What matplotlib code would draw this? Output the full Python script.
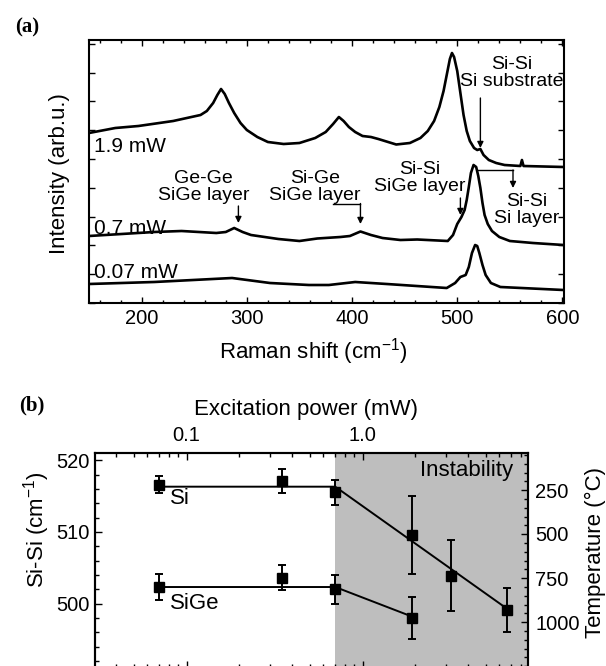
import numpy as np
import matplotlib
matplotlib.use("Agg")
import matplotlib.pyplot as plt
from matplotlib.ticker import MultipleLocator, FixedLocator, LogLocator, NullFormatter

plt.rcParams['font.family'] = ['Liberation Sans', 'DejaVu Sans']
plt.rcParams['mathtext.default'] = 'regular'

# ========= DATA ==================================
# (a) Raman spectra, intensity in arbitrary units
shift_19 = [150, 175, 197, 230, 256, 262, 268, 272, 275.5, 279, 283, 288, 294, 300, 310,
            320, 335, 350, 365, 375, 382, 387.5, 392, 397, 403, 410, 418, 425, 442, 455,
            465, 472, 478, 483, 487, 490, 493, 495, 497, 500, 503, 506, 509, 512, 516,
            519, 522, 525, 530, 537, 545, 560, 561.5, 563, 601]
int_19 = [170, 175, 177, 182, 188, 192, 200, 208, 214, 209, 200, 190, 180, 173, 166,
          161, 159, 160, 165, 171, 179, 186, 182, 176, 171, 167, 166, 164, 158.5, 160,
          165, 172, 182, 196, 212, 228, 244, 250, 246, 232, 210, 188, 172, 162, 155,
          153, 154, 148, 143, 140, 138, 137, 143, 137, 136]

shift_07 = [150, 212, 238, 271, 280, 288, 296, 304, 330, 350, 367, 389, 398, 408, 418,
            429, 446, 462, 491, 496, 500, 504, 507, 509, 511, 513, 515.5, 518, 520, 522,
            524, 526, 529, 533, 540, 550, 572, 601]
int_07 = [67, 71, 72, 70, 71, 75, 71, 68, 64, 62, 64.5, 66, 67, 71.5, 68,
          65, 63, 63.5, 62, 68, 79, 86, 93, 103, 116, 130, 138, 136, 127, 115,
          100, 88, 79, 72, 66, 62, 60, 58]

shift_007 = [150, 212, 286, 322, 359, 378, 403, 433, 490, 498, 503, 508, 511, 514, 517,
             519, 521, 524, 527, 532, 541, 601]
int_007 = [19, 21, 25, 20, 18, 18, 21, 19, 15, 20, 26, 28, 36, 50, 58,
           57, 50, 38, 28, 20, 16, 13]

# (b) Si-Si peak position vs excitation power
power = [0.07, 0.35, 0.7, 1.9, 3.2, 6.6]
si_peak = [516.6, 517.1, 515.5, 509.5, 503.9, 499.1]
si_err = [1.15, 1.7, 1.75, 5.45, 4.95, 3.05]
sige_power = [0.07, 0.35, 0.7, 1.9]
sige_peak = [502.3, 503.6, 502.0, 498.0]
sige_err = [1.8, 1.75, 2.0, 2.9]
si_fit_power = [0.07, 0.7, 6.6]
si_fit = [516.3, 516.3, 499.3]
sige_fit_power = [0.07, 0.7, 1.9]
sige_fit = [502.3, 502.3, 498.2]
instab_start = 0.7
temp_labels = [250, 500, 750, 1000]
temp_pos = [515.8, 509.7, 503.5, 497.4]   # Si-Si value matching each temperature
# =================================================

fig = plt.figure(figsize=(6.06, 6.66), dpi=100)

# ---------------- panel (a) ----------------
ax1 = fig.add_axes([89 / 606, 1 - 303 / 666, 474.5 / 606, 263 / 666])
for x, y in [(shift_19, int_19), (shift_07, int_07), (shift_007, int_007)]:
    ax1.plot(x, y, color='k', lw=1.9, solid_joinstyle='round')

ax1.set_xlim(150, 601)
ax1.set_ylim(0, 263)
ax1.xaxis.set_major_locator(MultipleLocator(100))
ax1.xaxis.set_minor_locator(MultipleLocator(20))
ax1.yaxis.set_major_locator(MultipleLocator(28.8))
ax1.tick_params(which='both', direction='in', top=True, right=True, width=1,
                labelleft=False, labelsize=14.5, pad=4)
ax1.tick_params(which='major', length=4)
ax1.tick_params(which='minor', length=2.2)
for s in ax1.spines.values():
    s.set_linewidth(1.5)
ax1.set_xlabel(r'Raman shift (cm$^{-1}$)', fontsize=16)
ax1.xaxis.set_label_coords(0.472, -0.125)
ax1.set_ylabel('Intensity (arb.u.)', fontsize=16)
ax1.yaxis.set_label_coords(-0.04, 0.494)

fs = 14
ax1.text(155, 156, '1.9 mW', fontsize=15, va='center')
ax1.text(155, 74, '0.7 mW', fontsize=15, va='center')
ax1.text(155, 30, '0.07 mW', fontsize=15, va='center')
ax1.text(259, 116, 'Ge-Ge\nSiGe layer', fontsize=fs, ha='center', va='center', linespacing=1.05)
ax1.text(365, 116, 'Si-Ge\nSiGe layer', fontsize=fs, ha='center', va='center', linespacing=1.05)
ax1.text(464, 125, 'Si-Si\nSiGe layer', fontsize=fs, ha='center', va='center', linespacing=1.05)
ax1.text(552, 230, 'Si-Si\nSi substrate', fontsize=fs, ha='center', va='center', linespacing=1.05)
ax1.text(566, 93, 'Si-Si\nSi layer', fontsize=fs, ha='center', va='center', linespacing=1.05)

arrow = dict(arrowstyle='-|>', color='k', lw=1.0, mutation_scale=9, shrinkA=0, shrinkB=0)
ax1.annotate('', xy=(292, 80), xytext=(292, 97), arrowprops=arrow)
ax1.plot([382, 408], [99.5, 99.5], color='k', lw=1.0)
ax1.annotate('', xy=(408, 79), xytext=(408, 99.5), arrowprops=arrow)
ax1.annotate('', xy=(503, 88), xytext=(503, 105), arrowprops=arrow)
ax1.annotate('', xy=(522, 155), xytext=(522, 205), arrowprops=arrow)
ax1.plot([519, 553], [133, 133], color='k', lw=1.0)
ax1.annotate('', xy=(553, 115), xytext=(553, 133), arrowprops=arrow)

fig.text(27 / 606, 1 - 27 / 666, '(a)', fontsize=15, fontweight='bold',
         family='Liberation Serif', ha='center', va='center')

# ---------------- panel (b) ----------------
ax2 = fig.add_axes([95 / 606, 1 - 668 / 666, 433.3 / 606, 215 / 666])
ax2.set_xscale('log')
ax2.axvspan(instab_start, 100, color='#bebebe', lw=0, zorder=0)
ax2.plot(si_fit_power, si_fit, color='k', lw=1.4, zorder=2)
ax2.plot(sige_fit_power, sige_fit, color='k', lw=1.4, zorder=2)
ax2.errorbar(power, si_peak, yerr=si_err, fmt='s', color='k', ms=6.5,
             capsize=3, elinewidth=1.4, capthick=1.4, zorder=3)
ax2.errorbar(sige_power, sige_peak, yerr=sige_err, fmt='s', color='k', ms=6.5,
             capsize=3, elinewidth=1.4, capthick=1.4, zorder=3)

ax2.set_xlim(0.0302, 8.75)
ax2.set_ylim(491, 521)
ax2.set_xticks([0.1, 1.0])
ax2.set_xticklabels(['0.1', '1.0'])
ax2.xaxis.set_minor_locator(LogLocator(base=10, subs=np.arange(2, 10)))
ax2.xaxis.set_minor_formatter(NullFormatter())
ax2.yaxis.set_major_locator(MultipleLocator(10))
ax2.yaxis.set_minor_locator(MultipleLocator(2))
ax2.tick_params(which='both', direction='in', top=True, bottom=True, right=False,
                labeltop=True, labelbottom=False, width=1, labelsize=14.5)
ax2.tick_params(axis='x', pad=6)
ax2.tick_params(axis='y', pad=4)
ax2.tick_params(which='major', length=5)
ax2.tick_params(which='minor', length=3)
for s in ax2.spines.values():
    s.set_linewidth(1.5)
ax2.xaxis.set_label_position('top')
ax2.set_xlabel('Excitation power (mW)', fontsize=16)
ax2.xaxis.set_label_coords(0.487, 1.177)
ax2.set_ylabel(r'Si-Si (cm$^{-1}$)', fontsize=16)
ax2.yaxis.set_label_coords(-0.1, 0.642)

ax2.text(0.0806, 514.7, 'Si', fontsize=16, va='center')
ax2.text(0.0806, 500.0, 'SiGe', fontsize=16, va='center')
ax2.text(7.2, 518.6, 'Instability', fontsize=16, va='center', ha='right')

axr = ax2.twinx()
axr.set_ylim(ax2.get_ylim())
axr.set_yticks(temp_pos)
axr.set_yticklabels([str(t) for t in temp_labels])
slope, icpt = np.polyfit(temp_labels, temp_pos, 1)
minor_t = [t for t in range(0, 1300, 50) if t not in temp_labels]
axr.yaxis.set_minor_locator(FixedLocator([icpt + slope * t for t in minor_t]))
axr.tick_params(which='both', direction='in', width=1, labelsize=14.5, pad=5)
axr.tick_params(which='major', length=5)
axr.tick_params(which='minor', length=3)
for s in axr.spines.values():
    s.set_linewidth(1.5)
axr.set_ylabel('Temperature (°C)', fontsize=16)
axr.yaxis.set_label_coords(1.13, 0.535)

fig.text(32 / 606, 1 - 405 / 666, '(b)', fontsize=15, fontweight='bold',
         family='Liberation Serif', ha='center', va='center')

fig.savefig('out.png', dpi=100)
